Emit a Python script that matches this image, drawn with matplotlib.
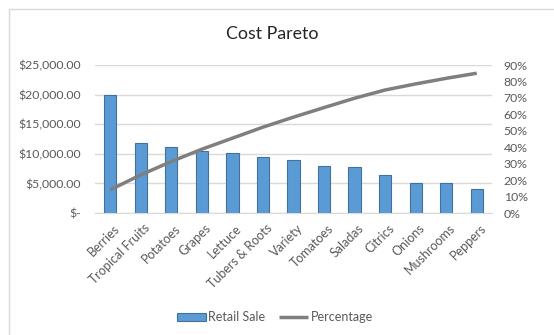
import matplotlib
matplotlib.use("Agg")
import matplotlib.pyplot as plt
import matplotlib.transforms as mtransforms
from matplotlib.ticker import FuncFormatter, MultipleLocator
from matplotlib.patches import Rectangle

categories = ["Berries", "Tropical Fruits", "Potatoes", "Grapes", "Lettuce",
              "Tubers & Roots", "Variety", "Tomatoes", "Saladas", "Citrics",
              "Onions", "Mushrooms", "Peppers"]
retail_sale = [20000, 11900, 11100, 10500, 10100, 9500, 8900, 7900, 7750,
               6500, 5150, 5150, 4000]
percentage = [0.141, 0.232, 0.313, 0.388, 0.455, 0.522, 0.583, 0.641, 0.698,
              0.748, 0.785, 0.819, 0.850]

plt.rcParams['font.family'] = ['Lato', 'DejaVu Sans']

W, H = 554, 335
fig = plt.figure(figsize=(W / 100, H / 100), dpi=100)
fig.patch.set_facecolor("white")

# chart frame (partially cropped in reference)
fig.patches.append(Rectangle((9 / W, -0.1), 2, (1 - 9 / H) + 0.1,
                             transform=fig.transFigure, fill=False,
                             edgecolor="#D9D9D9", linewidth=1.0))

left, right, bottom, top = 95, 492, 213, 65
ax = fig.add_axes([left / W, 1 - bottom / H, (right - left) / W, (bottom - top) / H])
x = list(range(len(categories)))
bars = ax.bar(x, retail_sale, width=0.4, color="#5B9BD5", edgecolor="#41719C",
              linewidth=0.8, label="Retail Sale", zorder=2)
ax.set_xlim(-0.5, len(categories) - 0.5)
ax.set_ylim(0, 25000)
ax.yaxis.set_major_locator(MultipleLocator(5000))

def money(v, pos):
    if v == 0:
        return "$-"
    return "${:,.2f}".format(v)

ax.yaxis.set_major_formatter(FuncFormatter(money))
ax.grid(axis="y", color="#D9D9D9", linewidth=1.0, zorder=0)
ax.set_axisbelow(True)
for s in ["top", "right", "left"]:
    ax.spines[s].set_visible(False)
ax.spines["bottom"].set_color("#D9D9D9")
ax.tick_params(axis="y", length=0, pad=10, labelsize=8.8, labelcolor="#595959")
ax.tick_params(axis="x", length=0, pad=6.5, labelsize=9, labelcolor="#595959")
ax.set_xticks(x)
ax.set_xticklabels(categories, rotation=45, ha="right", va="top",
                   rotation_mode="anchor")
offset = mtransforms.ScaledTranslation(3 / 100, 0, fig.dpi_scale_trans)
for lbl in ax.get_xticklabels():
    lbl.set_transform(lbl.get_transform() + offset)

ax2 = ax.twinx()
line, = ax2.plot(x, percentage, color="#7F7F7F", linewidth=2.5, label="Percentage",
                 solid_capstyle="butt", zorder=3)
ax2.set_ylim(0, 0.9)
ax2.yaxis.set_major_locator(MultipleLocator(0.1))
ax2.yaxis.set_major_formatter(FuncFormatter(lambda v, p: "{:.0f}%".format(v * 100)))
for s in ["top", "right", "left", "bottom"]:
    ax2.spines[s].set_visible(False)
ax2.tick_params(axis="y", length=0, pad=8.5, labelsize=8.8, labelcolor="#595959")

fig.text(272 / W, 1 - 34 / H, "Cost Pareto", ha="center", va="center",
         fontsize=12.8, color="#262626")

fig.legend([bars, line], ["Retail Sale", "Percentage"], loc="center",
           bbox_to_anchor=(275 / W, 1 - 317 / H), ncol=2, frameon=False,
           fontsize=9, labelcolor="#595959", handlelength=2.3, handleheight=0.6,
           handletextpad=0.2, columnspacing=1.1)

fig.savefig("out.png", dpi=100, facecolor="white")
